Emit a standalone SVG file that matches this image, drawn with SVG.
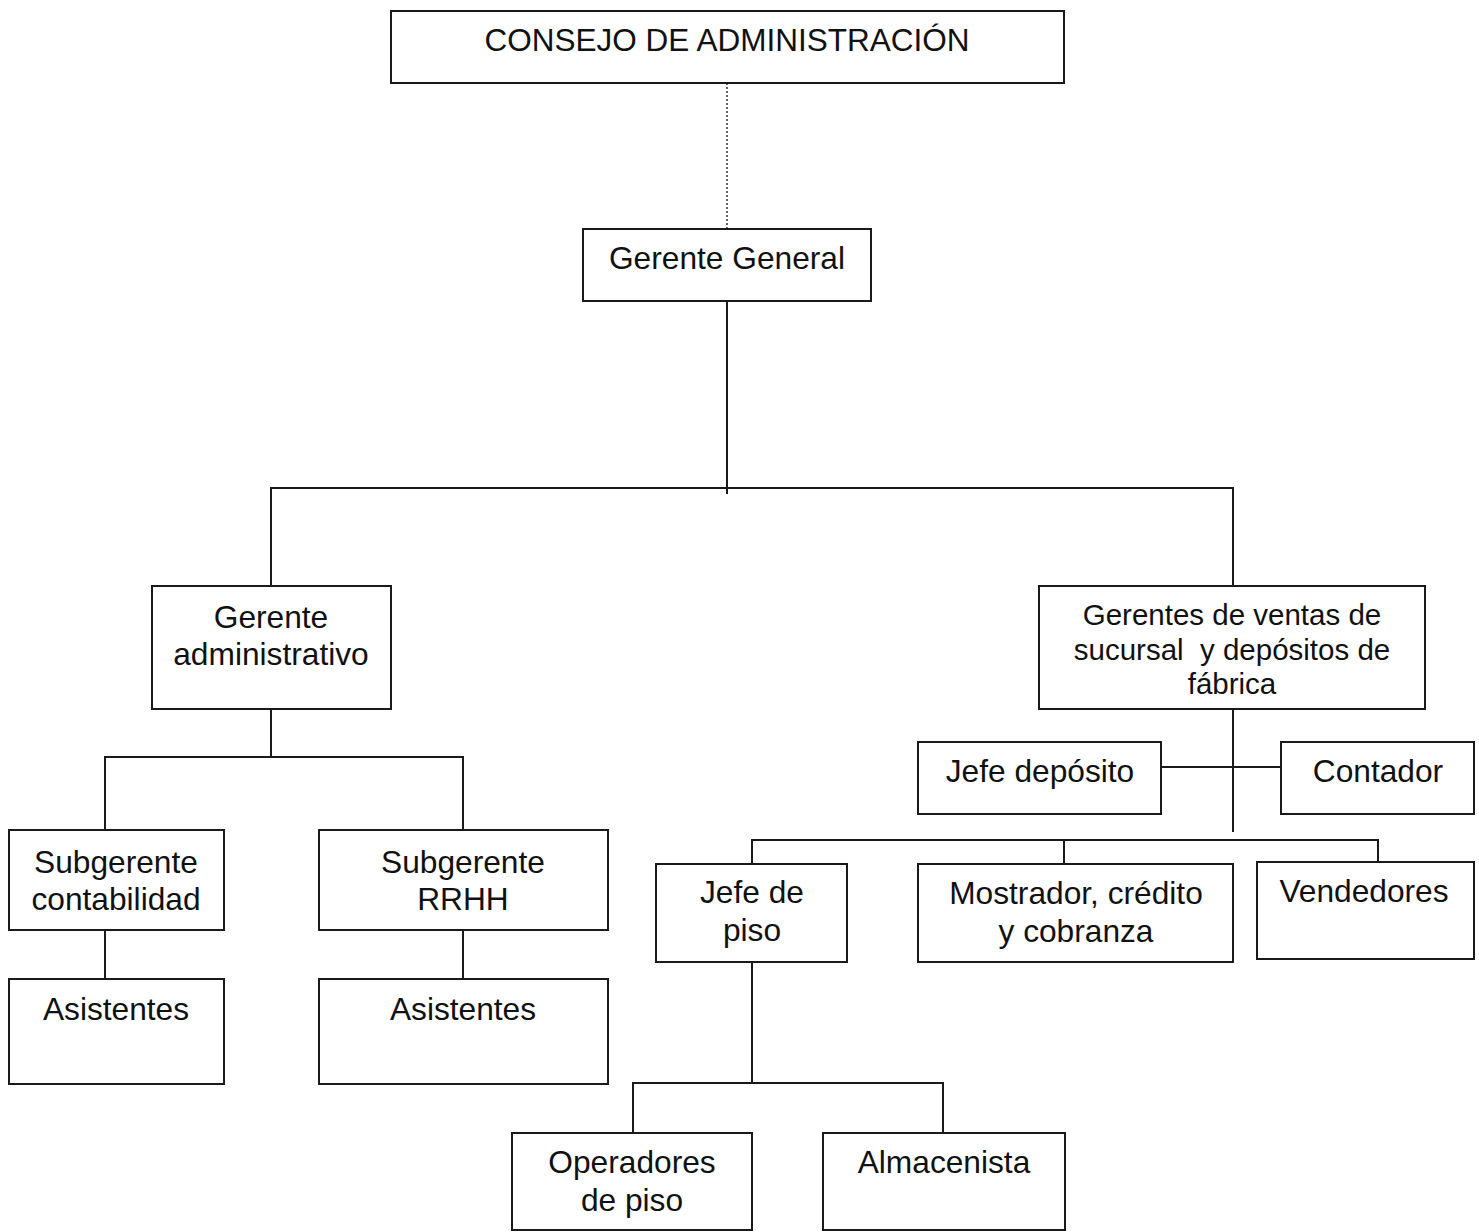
<svg xmlns="http://www.w3.org/2000/svg" width="1479" height="1232" viewBox="0 0 1479 1232">
<style>
.box{fill:#fff;stroke:#1a1a1a;stroke-width:2}
.ln{fill:none;stroke:#1a1a1a;stroke-width:2}
.dot{fill:none;stroke:#333;stroke-width:1.5;stroke-dasharray:2 2}
text{font-family:"Liberation Sans",Arial,sans-serif;font-size:31.7px;fill:#111;text-anchor:middle;white-space:pre}
.s{font-size:29.5px}
</style>
<rect width="1479" height="1232" fill="#fff"/>
<g id="connectors">
<line class="dot" x1="727" y1="83" x2="727" y2="229"/>
<path class="ln" d="M727 301V494M271 586V488H1233V586"/>
<path class="ln" d="M271 709V757M105 830V757H463V830M105 930V979M463 930V979"/>
<path class="ln" d="M1233 709V832M1161 767H1281M752 864V840H1378V862M1064 840V864"/>
<path class="ln" d="M752 962V1083M633 1133V1083H943V1133"/>
</g>
<g id="consejo"><rect class="box" x="391" y="11" width="673" height="72"/><text x="727" y="51" style="font-size:31.5px">CONSEJO DE ADMINISTRACIÓN</text></g>
<g id="gerente-general"><rect class="box" x="583" y="229" width="288" height="72"/><text x="727" y="269">Gerente General</text></g>
<g id="gerente-administrativo"><rect class="box" x="152" y="586" width="239" height="123"/><text x="271" y="628">Gerente</text><text x="271" y="665">administrativo</text></g>
<g id="gerentes-ventas"><rect class="box" x="1039" y="586" width="386" height="123"/><text class="s" x="1232" y="625">Gerentes de ventas de</text><text class="s" x="1232" y="660" xml:space="preserve">sucursal  y depósitos de</text><text class="s" x="1232" y="694">fábrica</text></g>
<g id="subgerente-contabilidad"><rect class="box" x="9" y="830" width="215" height="100"/><text x="116" y="873">Subgerente</text><text x="116" y="910">contabilidad</text></g>
<g id="subgerente-rrhh"><rect class="box" x="319" y="830" width="289" height="100"/><text x="463" y="873">Subgerente</text><text x="463" y="910">RRHH</text></g>
<g id="asistentes-1"><rect class="box" x="9" y="979" width="215" height="105"/><text x="116" y="1020">Asistentes</text></g>
<g id="asistentes-2"><rect class="box" x="319" y="979" width="289" height="105"/><text x="463" y="1020">Asistentes</text></g>
<g id="jefe-deposito"><rect class="box" x="918" y="742" width="243" height="72"/><text x="1040" y="782">Jefe depósito</text></g>
<g id="contador"><rect class="box" x="1281" y="742" width="193" height="72"/><text x="1378" y="782">Contador</text></g>
<g id="jefe-piso"><rect class="box" x="656" y="864" width="191" height="98"/><text x="752" y="903">Jefe de</text><text x="752" y="941">piso</text></g>
<g id="mostrador"><rect class="box" x="918" y="864" width="315" height="98"/><text x="1076" y="904">Mostrador, crédito</text><text x="1076" y="942">y cobranza</text></g>
<g id="vendedores"><rect class="box" x="1257" y="862" width="217" height="97"/><text x="1364" y="902">Vendedores</text></g>
<g id="operadores"><rect class="box" x="512" y="1133" width="240" height="97"/><text x="632" y="1173">Operadores</text><text x="632" y="1211">de piso</text></g>
<g id="almacenista"><rect class="box" x="823" y="1133" width="242" height="97"/><text x="944" y="1173">Almacenista</text></g>
</svg>
